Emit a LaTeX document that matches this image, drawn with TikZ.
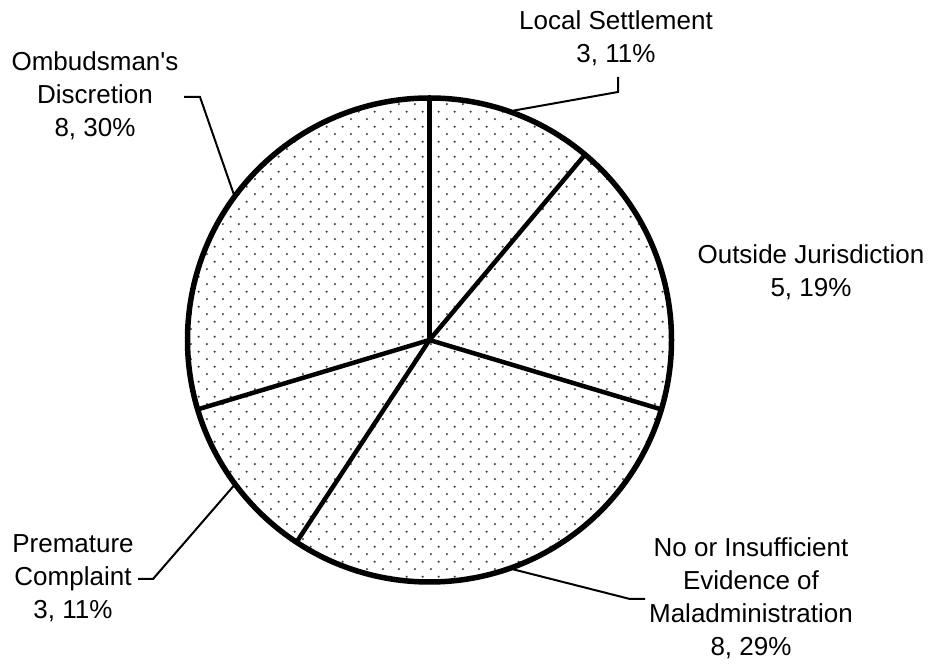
\documentclass[tikz,border=0pt]{standalone}
\usepackage{fontspec}
\setmainfont{Liberation Sans}
\usetikzlibrary{patterns}
\pgfdeclarepatternformonly{piedots}{\pgfpointorigin}{\pgfpoint{15.7pt}{15.4pt}}{\pgfpoint{15.7pt}{15.4pt}}{%
  \pgfpathcircle{\pgfpoint{3pt}{3pt}}{1.2pt}%
  \pgfpathcircle{\pgfpoint{10.85pt}{10.7pt}}{1.2pt}%
  \pgfusepath{fill}}

\begin{document}
\begin{tikzpicture}
[x=1pt,y=1pt,
 every node/.style={font=\fontsize{26}{33}\selectfont,align=center,inner sep=0pt},
 rim/.style={line width=5.5pt},
 spoke/.style={line width=4.5pt},
 lead/.style={line width=2pt}]

\useasboundingbox (0,0) rectangle (930,664);
\coordinate (C) at (429.5,324);

% pie
\fill[pattern=piedots,pattern color=black!75] (C) circle (242);
\foreach \a in {90,50,-16.67,-123.33,-163.33}
  \draw[spoke] (C) -- ++(\a:242);
\draw[rim] (C) circle (242);

% labels
\node (LS) at (616,626) {Local Settlement\\3, 11\%};
\node (OJ) at (811,392) {Outside Jurisdiction\\5, 19\%};
\node (NE) at (751,66)  {No or Insufficient\\Evidence of\\Maladministration\\8, 29\%};
\node (PC) at (73,86)   {Premature\\Complaint\\3, 11\%};
\node (OD) at (95,568)  {Ombudsman\textquotesingle s\\Discretion\\8, 30\%};

% leaders
\coordinate (LSa) at (618,587);
\coordinate (LSb) at (618,572);
\coordinate (NEa) at (645,65);
\coordinate (NEb) at (630,65);
\coordinate (PCa) at (138,85);
\coordinate (PCb) at (153,85);
\coordinate (ODa) at (184,567);
\coordinate (ODb) at (200,567);
\draw[lead] (LSa) -- (LSb) -- ([shift={(70:244)}]C);
\draw[lead] (NEa) -- (NEb) -- ([shift={(-70:244)}]C);
\draw[lead] (PCa) -- (PCb) -- ([shift={(-143.33:244)}]C);
\draw[lead] (ODa) -- (ODb) -- ([shift={(143.33:244)}]C);

\end{tikzpicture}
\end{document}
